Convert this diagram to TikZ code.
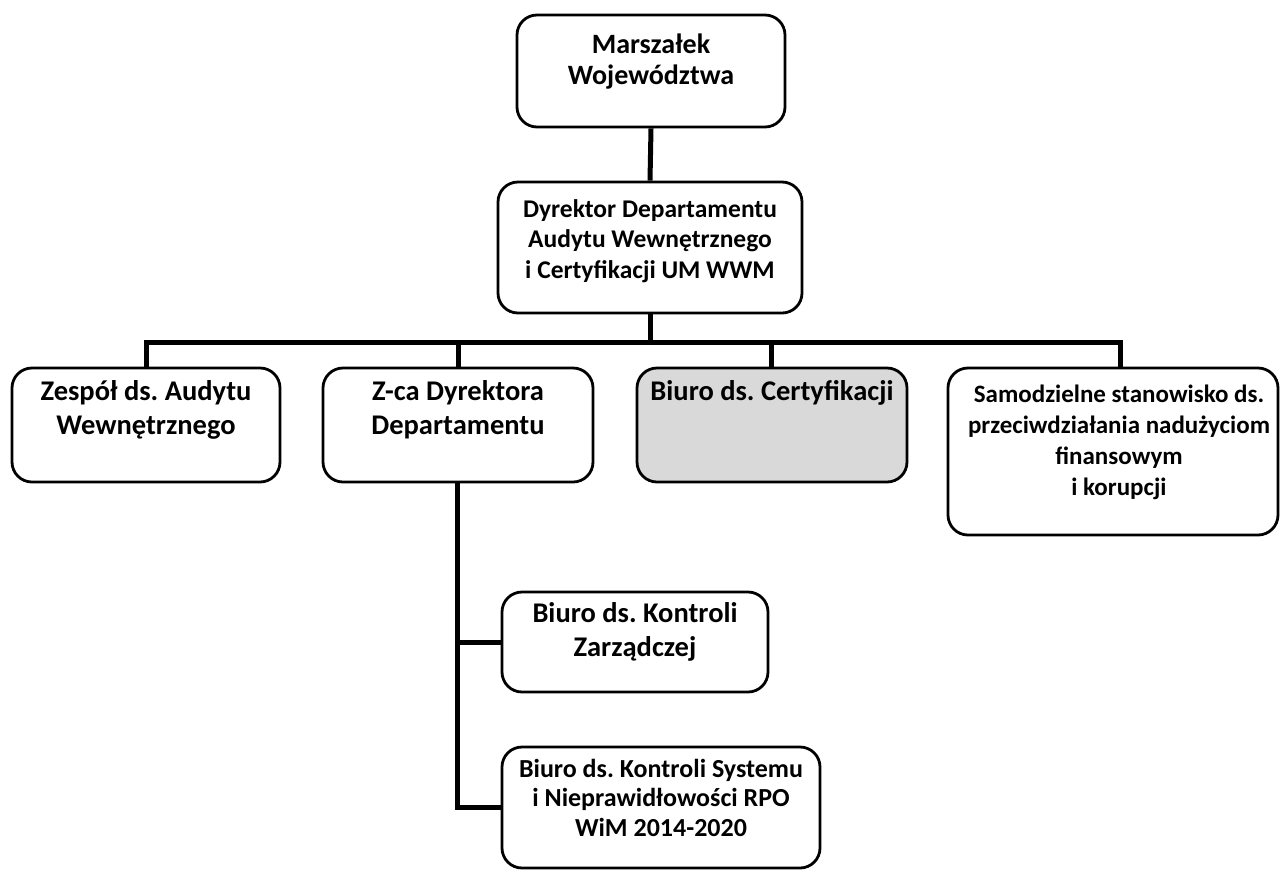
\documentclass[tikz,border=0pt]{standalone}
\usepackage{fontspec}
\setmainfont{Carlito}
\frenchspacing
\begin{document}
\begin{tikzpicture}[x=1pt,y=-1pt,
  box/.style={draw=black, line width=2.8pt, rounded corners=20pt, fill=white, inner sep=0pt},
  graybox/.style={box, fill=boxgray},
  lbl/.style={anchor=north, align=center, inner sep=0pt, font=\fontsize{28.5}{34}\selectfont\bfseries},
  midlbl/.style={lbl, font=\fontsize{25.5}{30.5}\selectfont\bfseries},
  smalllbl/.style={lbl, font=\fontsize{25}{31}\selectfont\bfseries},
  syslbl/.style={lbl, font=\fontsize{26}{29.5}\selectfont\bfseries},
  conn/.style={draw=black, line width=5pt}]
\definecolor{boxgray}{HTML}{D9D9D9}
\useasboundingbox (0,0) rectangle (1280,871);

% boxes
\node[box, minimum width=268pt, minimum height=112pt] (mar)  at (651,71) {};
\node[box, minimum width=304pt, minimum height=131pt] (dyr)  at (650,247.5) {};
\node[box, minimum width=268pt, minimum height=114pt] (zes)  at (146,425) {};
\node[box, minimum width=270pt, minimum height=114pt] (zca)  at (458,425) {};
\node[graybox, minimum width=270pt, minimum height=114pt] (cert) at (772,425) {};
\node[box, minimum width=330pt, minimum height=167pt] (sam)  at (1113,451.5) {};
\node[box, minimum width=266pt, minimum height=100pt] (kz)   at (635,642) {};
\node[box, minimum width=318pt, minimum height=121pt] (sys)  at (661,807.5) {};

% labels
\node[lbl, font=\fontsize{28}{31}\selectfont\bfseries] (tmar) at ([yshift=-20pt]mar.north) {Marszałek\\Województwa};
\node[midlbl]   (tdyr)  at ([yshift=-18.5pt]dyr.north) {Dyrektor Departamentu\\Audytu Wewnętrznego\\i Certyfikacji UM WWM};
\node[lbl]      (tzes)  at ([yshift=-14pt]zes.north) {Zespół ds. Audytu\\Wewnętrznego};
\node[lbl]      (tzca)  at ([yshift=-14pt]zca.north) {Z-ca Dyrektora\\Departamentu};
\node[lbl]      (tcert) at ([yshift=-14pt]cert.north) {Biuro ds. Certyfikacji};
\node[smalllbl] (tsam)  at ([xshift=6pt,yshift=-18.5pt]sam.north) {Samodzielne stanowisko ds.\\przeciwdziałania nadużyciom\\finansowym\\i korupcji};
\node[lbl]      (tkz)   at ([yshift=-11.5pt]kz.north)  {Biuro ds. Kontroli\\Zarządczej};
\node[syslbl]   (tsys)  at ([yshift=-13pt]sys.north) {Biuro ds. Kontroli Systemu\\i Nieprawidłowości RPO\\WiM 2014-2020};

% connectors
\coordinate (bus) at (650,342);
\coordinate (busR) at (1120,342);
\draw[conn] (mar.south) -- (dyr.north);
\draw[conn] (dyr.south) -- (bus);
\draw[conn] (bus) -| (zes.north);
\draw[conn] (bus) -| (zca.north);
\draw[conn] (bus) -| ([xshift=-1pt]cert.north);
\draw[conn] (bus) -- (busR) -- (busR |- sam.north);
\draw[conn] ([xshift=-1pt]zca.south) |- (kz.west);
\draw[conn] ([xshift=-1pt]zca.south) |- (sys.west);
\end{tikzpicture}
\end{document}
